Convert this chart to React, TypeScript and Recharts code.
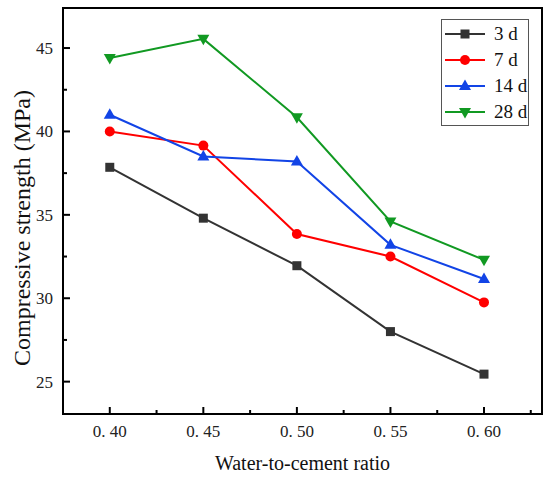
import React from 'react';
import { LineChart, Line, XAxis, YAxis, ReferenceArea } from 'recharts';

const ratios = [0.4, 0.45, 0.5, 0.55, 0.6];
const strength3d = [37.85, 34.8, 31.95, 28.0, 25.45];
const strength7d = [40.0, 39.15, 33.85, 32.5, 29.75];
const strength14d = [41.0, 38.5, 38.2, 33.2, 31.15];
const strength28d = [44.4, 45.55, 40.85, 34.6, 32.3];

const xTicks = [0.375, 0.4, 0.425, 0.45, 0.475, 0.5, 0.525, 0.55, 0.575, 0.6, 0.625];
const xMajor = [0.4, 0.45, 0.5, 0.55, 0.6];
const xTickLabels = ['0. 40', '0. 45', '0. 50', '0. 55', '0. 60'];
const yTicks = [25, 27.5, 30, 32.5, 35, 37.5, 40, 42.5, 45];
const yMajor = [25, 30, 35, 40, 45];

const X_DOMAIN: [number, number] = [0.375, 0.631];
const Y_DOMAIN: [number, number] = [23.06, 47.4];

const FONT = '"Liberation Serif", "Times New Roman", serif';

const series = [
  { key: 's3', name: '3 d', color: '#333333', shape: 'square', values: strength3d },
  { key: 's7', name: '7 d', color: '#ff0000', shape: 'circle', values: strength7d },
  { key: 's14', name: '14 d', color: '#1244e6', shape: 'up', values: strength14d },
  { key: 's28', name: '28 d', color: '#119922', shape: 'down', values: strength28d },
];

const data = ratios.map((r, i) => {
  const row: Record<string, number> = { ratio: r };
  series.forEach((s) => {
    row[s.key] = s.values[i];
  });
  return row;
});

function marker(shape: string, cx: number, cy: number, color: string, key?: string) {
  if (shape === 'square') {
    return <rect key={key} x={cx - 4.5} y={cy - 4.5} width={9} height={9} fill={color} />;
  }
  if (shape === 'circle') {
    return <circle key={key} cx={cx} cy={cy} r={5} fill={color} />;
  }
  if (shape === 'up') {
    return (
      <path key={key} d={`M${cx},${cy - 6.5} L${cx + 6},${cy + 4} L${cx - 6},${cy + 4} Z`} fill={color} />
    );
  }
  return (
    <path key={key} d={`M${cx},${cy + 6.5} L${cx + 6},${cy - 4} L${cx - 6},${cy - 4} Z`} fill={color} />
  );
}

const near = (a: number, b: number) => Math.abs(a - b) < 1e-6;
const textStyle = { fontFamily: FONT };

const XTick = (props: any) => {
  const { x, y, payload } = props;
  const idx = xMajor.findIndex((m) => near(m, payload.value));
  const major = idx >= 0;
  return (
    <g>
      <line x1={x} x2={x} y1={y} y2={y - (major ? 7 : 4)} stroke="#000" strokeWidth={2} />
      {major && (
        <text x={x} y={y + 23} textAnchor="middle" style={textStyle} fontSize={17} fill="#222">
          {xTickLabels[idx]}
        </text>
      )}
    </g>
  );
};

const YTick = (props: any) => {
  const { x, y, payload } = props;
  const major = yMajor.some((m) => near(m, payload.value));
  return (
    <g>
      <line x1={x} x2={x + (major ? 7 : 4)} y1={y} y2={y} stroke="#000" strokeWidth={2} />
      {major && (
        <text x={x - 10} y={y} dy="0.35em" textAnchor="end" style={textStyle} fontSize={17} fill="#222">
          {payload.value}
        </text>
      )}
    </g>
  );
};

const LegendBox = () => (
  <div
    style={{
      position: 'absolute',
      left: 441,
      top: 19,
      width: 86,
      height: 105,
      border: '1.5px solid #555',
      background: '#fff',
      fontFamily: FONT,
      fontSize: 19,
      color: '#111',
    }}
  >
    {series.map((s, i) => (
      <div
        key={s.key}
        style={{ position: 'absolute', left: 3, top: 1 + i * 26, height: 26, display: 'flex', alignItems: 'center' }}
      >
        <svg width={42} height={26}>
          <line x1={0} x2={40} y1={13} y2={13} stroke={s.color} strokeWidth={2} />
          {marker(s.shape, 20, 13, s.color)}
        </svg>
        <span style={{ marginLeft: 7, lineHeight: '26px' }}>{s.name}</span>
      </div>
    ))}
  </div>
);

export default function App() {
  return (
    <div style={{ position: 'absolute', left: 0, top: 0, width: 550, height: 477, background: '#fff' }}>
      <LineChart width={550} height={477} data={data} margin={{ top: 8, right: 8, left: 0, bottom: 0 }}>
        <ReferenceArea
          x1={X_DOMAIN[0]}
          x2={X_DOMAIN[1]}
          y1={Y_DOMAIN[0]}
          y2={Y_DOMAIN[1]}
          fill="none"
          fillOpacity={0}
          stroke="#000"
          strokeWidth={2}
        />
        <XAxis
          dataKey="ratio"
          type="number"
          domain={X_DOMAIN}
          allowDataOverflow
          ticks={xTicks}
          interval={0}
          tickSize={0}
          tickMargin={0}
          tick={<XTick />}
          tickLine={false}
          axisLine={{ stroke: '#000', strokeWidth: 2 }}
          height={63}
          label={{
            position: 'insideBottom',
            content: (p: any) => {
              const vb = p.viewBox;
              return (
                <text x={vb.x + vb.width / 2} y={470} textAnchor="middle" style={textStyle} fontSize={20} fill="#111">
                  Water-to-cement ratio
                </text>
              );
            },
          }}
        />
        <YAxis
          type="number"
          domain={Y_DOMAIN}
          allowDataOverflow
          ticks={yTicks}
          interval={0}
          tickSize={0}
          tickMargin={0}
          tick={<YTick />}
          tickLine={false}
          axisLine={{ stroke: '#000', strokeWidth: 2 }}
          width={63}
          label={{
            position: 'insideLeft',
            content: () => (
              <text
                x={30}
                y={228}
                transform="rotate(-90 30 228)"
                textAnchor="middle"
                style={textStyle}
                fontSize={24}
                fill="#111"
              >
                Compressive strength (MPa)
              </text>
            ),
          }}
        />
        {series.map((s) => (
          <Line
            key={s.key}
            dataKey={s.key}
            name={s.name}
            stroke={s.color}
            strokeWidth={2}
            isAnimationActive={false}
            dot={(p: any) => marker(s.shape, p.cx, p.cy, s.color, `${s.key}-${p.index}`)}
            activeDot={false}
          />
        ))}
      </LineChart>
      <LegendBox />
    </div>
  );
}
